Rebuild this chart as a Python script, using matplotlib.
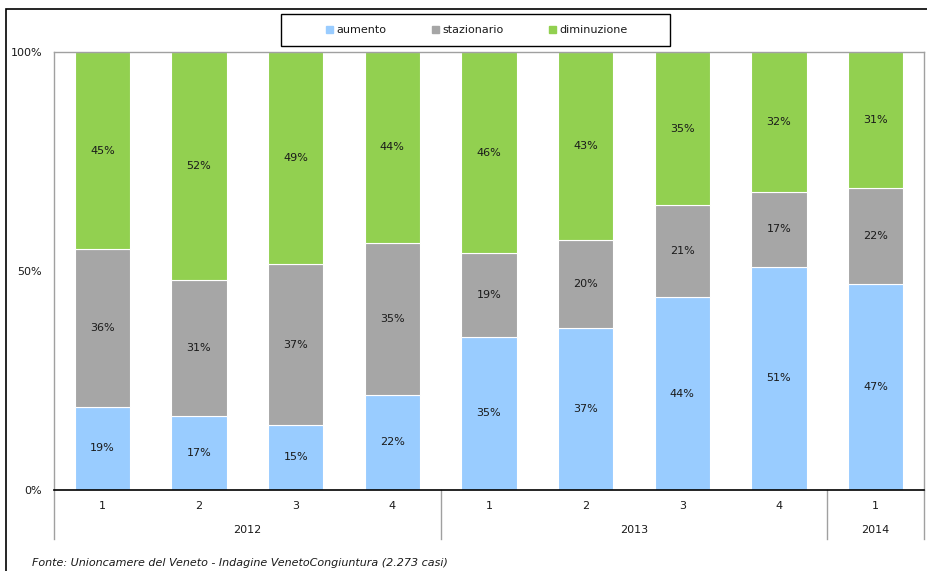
import numpy as np
import matplotlib
matplotlib.use("Agg")
import matplotlib.pyplot as plt
from matplotlib.patches import Rectangle

# ── Dati (Indagine VenetoCongiuntura) ─────────────────────────────────────
quarters = ["1", "2", "3", "4", "1", "2", "3", "4", "1"]
years = ["2012", "2013", "2014"]
year_spans = [4, 4, 1]
aumento = [19, 17, 15, 22, 35, 37, 44, 51, 47]
stazionario = [36, 31, 37, 35, 19, 20, 21, 17, 22]
diminuzione = [45, 52, 49, 44, 46, 43, 35, 32, 31]

series = [("aumento", aumento, "#99CCFF"),
          ("stazionario", stazionario, "#A6A6A6"),
          ("diminuzione", diminuzione, "#92D050")]

plt.rcParams["font.family"] = ["DejaVu Sans"]
FS = 8

W, H = 927, 571
fig = plt.figure(figsize=(W / 100, H / 100), dpi=100)
ax = fig.add_axes([54 / W, 1 - 490 / H, (924 - 54) / W, (490 - 52) / H])

n = len(quarters)
x = np.arange(n)
totals = np.array(aumento) + np.array(stazionario) + np.array(diminuzione)
bottom = np.zeros(n)
for name, vals, col in series:
    v = np.array(vals) / totals * 100
    ax.bar(x, v, bottom=bottom, width=0.57, color=col, edgecolor="white",
           linewidth=0.8, label=name)
    for xi, bi, vi, lab in zip(x, bottom, v, vals):
        ax.text(xi, bi + vi / 2, f"{lab}%", ha="center", va="center",
                fontsize=FS, color="#1a1a1a")
    bottom += v

ax.set_xlim(-0.5, n - 0.5)
ax.set_ylim(0, 100)
ax.set_yticks([0, 50, 100])
ax.set_yticklabels(["0%", "50%", "100%"], fontsize=FS, color="#1a1a1a")
ax.tick_params(axis="y", length=0, pad=8.5)
ax.set_xticks([])
for s in ["top", "right", "left"]:
    ax.spines[s].set_color("#A0A0A0")
    ax.spines[s].set_linewidth(1.0)
ax.spines["bottom"].set_color("black")
ax.spines["bottom"].set_linewidth(1.2)

# etichette asse x a due livelli
trans = ax.get_xaxis_transform()
for xi, q in zip(x, quarters):
    ax.text(xi, -16 / 438, q, transform=trans, ha="center", va="center",
            fontsize=FS, color="#1a1a1a")
start = -0.5
seps = [start]
for yr, span in zip(years, year_spans):
    ax.text(start + span / 2, -40 / 438, yr, transform=trans, ha="center",
            va="center", fontsize=FS, color="#1a1a1a")
    start += span
    seps.append(start)
for s in seps:
    ax.plot([s, s], [0, -49 / 438], transform=trans, color="#A0A0A0",
            linewidth=1.0, clip_on=False)

# legenda (disegnata a mano per la posizione delle voci)
fig.add_artist(Rectangle((281 / W, 1 - 46 / H), (670 - 281) / W, 32 / H,
                         transform=fig.transFigure, fill=False,
                         edgecolor="black", linewidth=1.0))
leg_x = [326, 432, 549]
for lx, (name, _, col) in zip(leg_x, series):
    fig.add_artist(Rectangle((lx / W, 1 - 33 / H), 7 / W, 7 / H,
                             transform=fig.transFigure, color=col))
    fig.text((lx + 10) / W, 1 - 30 / H, name, fontsize=FS, va="center",
             ha="left", color="#1a1a1a")

fig.text(32 / W, 1 - 563 / H,
         "Fonte: Unioncamere del Veneto - Indagine VenetoCongiuntura (2.273 casi)",
         fontsize=FS, style="italic", va="center", ha="left", color="#1a1a1a")

# cornice esterna
fig.add_artist(Rectangle((6 / W, -0.1), 1.0, 1 - 9 / H + 0.1,
                         transform=fig.transFigure, fill=False,
                         edgecolor="black", linewidth=1.2))

fig.savefig("out.png", dpi=100)
